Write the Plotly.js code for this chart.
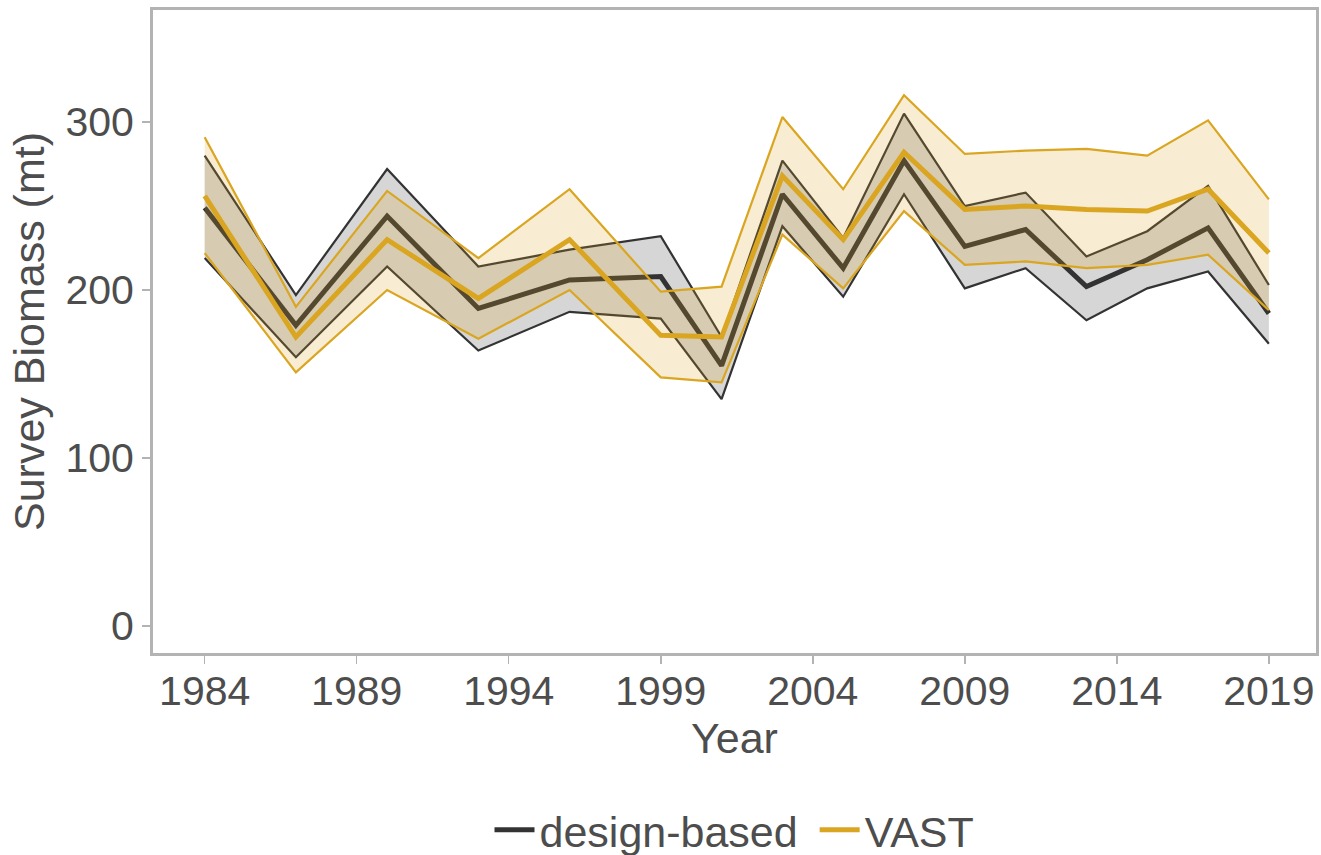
<!DOCTYPE html>
<html>
<head>
<meta charset="utf-8">
<script src="https://cdn.plot.ly/plotly-3.0.1.min.js"></script>
<style>html,body{margin:0;padding:0;background:#fff;}#chart{width:1321px;height:855px;}</style>
</head>
<body>
<div id="chart"></div>
<script>
// Survey years
const years = [1984, 1987, 1990, 1993, 1996, 1999, 2001, 2003, 2005, 2007, 2009, 2011, 2013, 2015, 2017, 2019];

// Design-based estimates (mt)
const designMean  = [249, 179, 244, 189, 206, 208, 155, 257, 213, 277, 226, 236, 202, 218, 237, 186];
const designLower = [219, 160, 214, 164, 187, 183, 135, 238, 196, 257, 201, 213, 182, 201, 211, 168];
const designUpper = [280, 197, 272, 214, 224, 232, 172, 277, 231, 305, 250, 258, 220, 235, 262, 203];

// VAST estimates (mt)
const vastMean  = [256, 172, 230, 195, 230, 173, 172, 268, 230, 282, 248, 250, 248, 247, 260, 222];
const vastLower = [222, 151, 200, 171, 200, 148, 145, 233, 201, 247, 215, 217, 213, 215, 221, 188];
const vastUpper = [291, 190, 259, 219, 260, 199, 202, 303, 260, 316, 281, 283, 284, 280, 301, 254];

const seriesNames = ['design-based ', 'VAST'];

const dark = '#333333';
const gold = '#DAA520';
const darkFill = 'rgba(51,51,51,0.2)';
const goldFill = 'rgba(218,165,32,0.2)';

const traces = [
  {x: years, y: designLower, type: 'scatter', mode: 'lines', line: {color: dark, width: 2.2}, showlegend: false, hoverinfo: 'skip'},
  {x: years, y: designUpper, type: 'scatter', mode: 'lines', fill: 'tonexty', fillcolor: darkFill, line: {color: dark, width: 2.2}, showlegend: false, hoverinfo: 'skip'},
  {x: years, y: designMean, type: 'scatter', mode: 'lines', name: seriesNames[0], line: {color: dark, width: 5}},
  {x: years, y: vastLower, type: 'scatter', mode: 'lines', line: {color: gold, width: 2.2}, showlegend: false, hoverinfo: 'skip'},
  {x: years, y: vastUpper, type: 'scatter', mode: 'lines', fill: 'tonexty', fillcolor: goldFill, line: {color: gold, width: 2.2}, showlegend: false, hoverinfo: 'skip'},
  {x: years, y: vastMean, type: 'scatter', mode: 'lines', name: seriesNames[1], line: {color: gold, width: 5}}
];

const fontFam = 'Liberation Sans, Arial, sans-serif';
const txt = '#4d4d4d';
const layout = {
  width: 1321, height: 855,
  margin: {l: 153, r: 5, t: 10, b: 202, autoexpand: false},
  paper_bgcolor: '#ffffff',
  plot_bgcolor: '#ffffff',
  font: {family: fontFam, color: txt, size: 41},
  xaxis: {
    range: [1982.3, 2020.55],
    tickmode: 'array',
    tickvals: [1984, 1989, 1994, 1999, 2004, 2009, 2014, 2019],
    ticktext: ['1984', '1989', '1994', '1999', '2004', '2009', '2014', '2019'],
    showgrid: false, zeroline: false, automargin: false,
    showline: true, mirror: true, linecolor: '#b3b3b3', linewidth: 3,
    ticks: 'outside', ticklen: 8, tickwidth: 1.5, tickcolor: '#b3b3b3',
    ticklabelstandoff: -8,
    tickfont: {size: 41, color: txt, family: fontFam},
    title: {text: 'Year', font: {size: 43, color: txt, family: fontFam}, standoff: 6}
  },
  yaxis: {
    range: [-16.1, 366.7],
    tickmode: 'array',
    tickvals: [0, 100, 200, 300],
    ticktext: ['0', '100', '200', '300'],
    showgrid: false, zeroline: false, automargin: false,
    showline: true, mirror: true, linecolor: '#b3b3b3', linewidth: 3,
    ticks: 'outside', ticklen: 8, tickwidth: 1.5, tickcolor: '#b3b3b3',
    tickfont: {size: 41, color: txt, family: fontFam},
    title: {text: 'Survey Biomass (mt)', font: {size: 43, color: txt, family: fontFam}, standoff: 8}
  },
  showlegend: true,
  legend: {
    orientation: 'h', x: 0.5, xanchor: 'center', y: -0.275, yanchor: 'middle',
    traceorder: 'normal',
    font: {size: 43, color: txt, family: fontFam},
    bgcolor: 'rgba(0,0,0,0)', itemwidth: 40, tracegroupgap: 0
  }
};

Plotly.newPlot('chart', traces, layout, {displayModeBar: false, staticPlot: true});
</script>
</body>
</html>
